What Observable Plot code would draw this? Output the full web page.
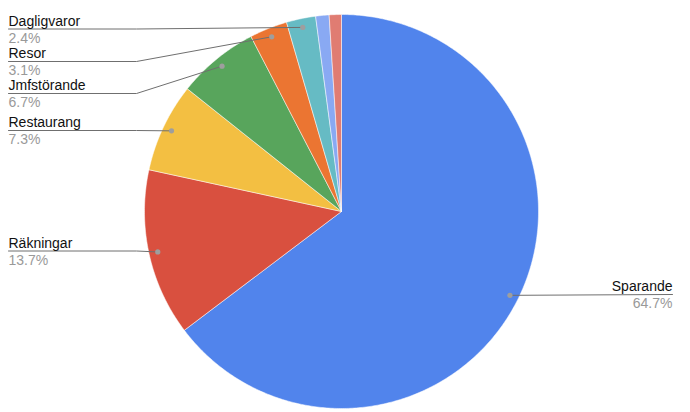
<!DOCTYPE html>
<html><head><meta charset="utf-8">
<script src="https://cdn.jsdelivr.net/npm/d3@7"></script>
<script src="https://cdn.jsdelivr.net/npm/@observablehq/plot@0.6"></script>
<style>body{margin:0;background:#fff}</style>
</head><body><div id="chart"></div>
<script>
// ---- data ----
const categories = ["Sparande", "Räkningar", "Restaurang", "Jmfstörande", "Resor", "Dagligvaror", "Övrigt", "Annat"];
const values = [64.7, 13.7, 7.3, 6.7, 3.1, 2.4, 1.1, 1.0];
const colors = ["#5184EC", "#D9503F", "#F3BF42", "#58A55C", "#EB7532", "#66BBC4", "#89A9F3", "#E07C72"];
const labeledCount = 6;

// ---- layout (pixels) ----
const CX = 341, CY = 211, R = 197;
const lineYpx = [294, 250.5, 130, 93, 61, 28.5];
const leftX = 8, rightX = 672, elbowX = 136, dotR = 0.955;
const px2x = p => (p - CX) / R;
const py2y = p => (CY - p) / R;

const total = d3.sum(values);
let acc = 0;
const slices = categories.map((c, i) => {
  const a0 = acc / total * 2 * Math.PI; acc += values[i];
  const a1 = acc / total * 2 * Math.PI;
  return {c, v: values[i], a0, a1, mid: (a0 + a1) / 2};
});

const slicePts = slices.flatMap(s => {
  const n = Math.max(2, Math.ceil((s.a1 - s.a0) / 0.01));
  const pts = [{c: s.c, x: 0, y: 0}];
  for (let k = 0; k <= n; k++) {
    const t = s.a0 + (s.a1 - s.a0) * k / n;
    pts.push({c: s.c, x: Math.sin(t), y: Math.cos(t)});
  }
  pts.push({c: s.c, x: 0, y: 0});
  return pts;
});

const labels = slices.slice(0, labeledCount).map((s, i) => {
  const dx = dotR * Math.sin(s.mid), dy = dotR * Math.cos(s.mid);
  const right = dx > 0;
  return {c: s.c, pct: d3.format(".1f")(s.v) + "%", dx, dy, right,
          ex: right ? px2x(rightX) : px2x(leftX), ly: py2y(lineYpx[i])};
});
const leftLabels = labels.filter(d => !d.right);
const rightLabels = labels.filter(d => d.right);

const leaderPts = labels.flatMap(l => {
  const pts = [{c: l.c, x: l.dx, y: l.dy}];
  if (!l.right) pts.push({c: l.c, x: px2x(elbowX), y: l.ly});
  pts.push({c: l.c, x: l.ex, y: l.ly});
  return pts;
});

const nameStyle = {x: "ex", y: "ly", text: "c", dy: -3.5, lineAnchor: "bottom", fill: "#111", fontSize: 14};
const pctStyle = {x: "ex", y: "ly", text: "pct", dy: 13.5, lineAnchor: "bottom", fill: "#999", fontSize: 14};

const chart = Plot.plot({
  width: 690, height: 412,
  marginLeft: 144, marginRight: 152, marginTop: 14, marginBottom: 4,
  x: {domain: [-1, 1], axis: null},
  y: {domain: [-1, 1], axis: null},
  color: {domain: categories, range: colors},
  style: {fontFamily: "'Liberation Sans', Arial, sans-serif", fontSize: "14px", background: "#fff"},
  marks: [
    Plot.line(slicePts, {x: "x", y: "y", z: "c", fill: "c", stroke: "white", strokeWidth: 0.5, curve: "linear"}),
    Plot.line(leaderPts, {x: "x", y: "y", z: "c", stroke: "#6f6f6f", strokeWidth: 1, curve: "linear"}),
    Plot.dot(labels, {x: "dx", y: "dy", r: 2.6, fill: "#9e9e9e", stroke: "none"}),
    Plot.text(leftLabels, {...nameStyle, textAnchor: "start"}),
    Plot.text(rightLabels, {...nameStyle, textAnchor: "end"}),
    Plot.text(leftLabels, {...pctStyle, textAnchor: "start"}),
    Plot.text(rightLabels, {...pctStyle, textAnchor: "end"})
  ]
});
document.getElementById("chart").append(chart);
</script>
</body></html>
